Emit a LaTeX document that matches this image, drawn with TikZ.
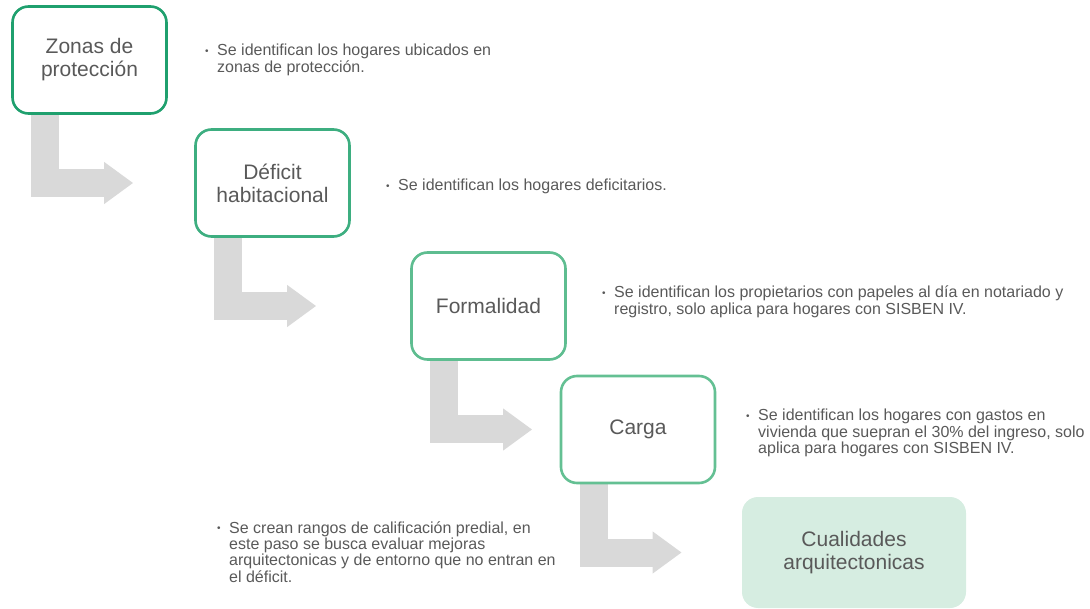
\documentclass[tikz,border=0pt]{standalone}
\usepackage{fontspec}
\setmainfont{Liberation Sans}
\usetikzlibrary{arrows.meta,backgrounds,positioning}

\definecolor{verdeA}{HTML}{1FA06E}
\definecolor{verdeB}{HTML}{3DAE80}
\definecolor{verdeC}{HTML}{5EBD90}
\definecolor{verdeD}{HTML}{64C093}
\definecolor{menta}{HTML}{D6EDE1}
\definecolor{grisflecha}{HTML}{D9D9D9}
\definecolor{gristexto}{HTML}{595959}

\newcommand{\bala}{\makebox[12pt][l]{\raisebox{1.5pt}{\fontsize{10}{10}\selectfont\textbullet}}}

\begin{document}
\begin{tikzpicture}[x=1pt, y=-1pt,
	paso/.style = {draw, rounded corners=16pt, line width=2.6pt, fill=white, minimum width=154pt, minimum height=107pt, align=center, text=gristexto, font=\fontsize{21}{23}\selectfont},
	meta/.style = {paso, draw=none, fill=menta, minimum width=224pt, minimum height=111pt},
	nota/.style = {anchor=base west, inner sep=0pt, text=gristexto, font=\fontsize{16}{16}\selectfont},
	flecha/.style = {draw=grisflecha, line width=28pt, -{Triangle[length=29pt, width=40pt]}}]
	\useasboundingbox (0,0) rectangle (1090,609);
	\node [paso, draw=verdeA] (zonas) at (89.5,60) {Zonas de\\protección};
	\node [paso, draw=verdeB] (deficit) at (272.5,183) {Déficit\\habitacional};
	\node [paso, draw=verdeC] (formal) at (488.5,306) {Formalidad};
	\node [paso, draw=verdeD] (carga) at (638,429.5) {Carga};
	\node [meta] (cualid) at (854,552.5) {Cualidades\\arquitectonicas};
	% flechas grises en L
	\begin{scope}[on background layer]
		\foreach \a/\b in {zonas/deficit, deficit/formal, formal/carga, carga/cualid}{
			\coordinate (arr) at ([xshift=34pt]\a.south west);
			\coordinate (pun) at ([xshift=122pt]\a.south west);
			\draw [flecha] (arr) |- (pun |- \b.west);
		}
	\end{scope}
	% notas
	\node [nota] (n-zonas) at (205,56) {\begin{tabular}[t]{@{}l@{}l@{}}\bala & Se identifican los hogares ubicados en\\ & zonas de protección.\end{tabular}};
	\node [nota] (n-deficit) at (386,191) {\begin{tabular}[t]{@{}l@{}l@{}}\bala & Se identifican los hogares deficitarios.\end{tabular}};
	\node [nota] (n-formal) at (602,298) {\begin{tabular}[t]{@{}l@{}l@{}}\bala & Se identifican los propietarios con papeles al día en notariado y\\ & registro, solo aplica para hogares con SISBEN IV.\end{tabular}};
	\node [nota] (n-carga) at (746,421) {\begin{tabular}[t]{@{}l@{}l@{}}\bala & Se identifican los hogares con gastos en\\ & vivienda que suepran el 30\% del ingreso, solo\\ & aplica para hogares con SISBEN IV.\end{tabular}};
	\node [nota] (n-cualid) at (217,533) {\begin{tabular}[t]{@{}l@{}l@{}}\bala & Se crean rangos de calificación predial, en\\ & este paso se busca evaluar mejoras\\ & arquitectonicas y de entorno que no entran en\\ & el déficit.\end{tabular}};
\end{tikzpicture}
\end{document}
